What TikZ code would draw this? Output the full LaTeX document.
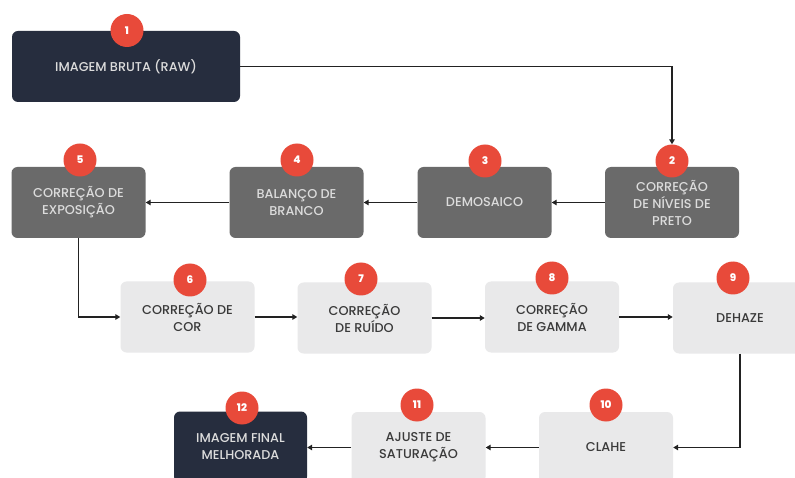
\documentclass[tikz,border=0pt]{standalone}
\usepackage{fontspec}
\setmainfont{Poppins Medium}
\usetikzlibrary{arrows.meta}
\definecolor{navy}{HTML}{262D3E}
\definecolor{midgray}{HTML}{6A6A6A}
\definecolor{lightgray}{HTML}{E9E9EA}
\definecolor{badge}{HTML}{E84A3A}
\definecolor{lighttext}{HTML}{DCDCDC}
\definecolor{darktext}{HTML}{3A3A3A}
\definecolor{linecol}{HTML}{222222}
\tikzset{
  box/.style={rounded corners=6pt, minimum height=71pt, align=center,
    font=\fontsize{12.8}{17}\selectfont, inner sep=2pt},
  darkbox/.style={box, fill=navy, text=lighttext},
  graybox/.style={box, fill=midgray, text=lighttext, minimum width=134pt},
  lightbox/.style={box, fill=lightgray, text=darktext, minimum width=134pt},
  badgec/.style={circle, fill=badge, text=white, minimum size=33pt, inner sep=0pt,
    font=\fontsize{10.5}{10.5}\selectfont\bfseries},
  conn/.style={draw=linecol, line width=1.7pt, -{Triangle[length=5pt,width=5.5pt]}},
}
\begin{document}
\begin{tikzpicture}[x=1pt,y=-1pt]
\useasboundingbox (0,0) rectangle (795,478);
\clip (0,0) rectangle (795,478);
\fill[white] (0,0) rectangle (795,478);
% boxes
\node[darkbox, minimum width=228pt] (b1) at (126,66.5) {IMAGEM BRUTA (RAW)};
\node[graybox] (b2) at (672,202.5) {CORREÇÃO\\DE NÍVEIS DE\\PRETO};
\node[graybox] (b3) at (484.5,202.5) {DEMOSAICO};
\node[graybox] (b4) at (296.5,202.5) {BALANÇO DE\\BRANCO};
\node[graybox] (b5) at (78.5,202.5) {CORREÇÃO DE\\EXPOSIÇÃO};
\node[lightbox] (b6) at (187.5,317) {CORREÇÃO DE\\COR};
\node[lightbox] (b7) at (364.5,318) {CORREÇÃO\\DE RUÍDO};
\node[lightbox] (b8) at (552,317) {CORREÇÃO\\DE GAMMA};
\node[lightbox] (b9) at (740,318) {DEHAZE};
\node[lightbox] (b10) at (606,447.5) {CLAHE};
\node[lightbox] (b11) at (418.5,447.5) {AJUSTE DE\\SATURAÇÃO};
\node[darkbox, minimum width=133pt] (b12) at (240.5,447) {IMAGEM FINAL\\MELHORADA};
% badges
\node[badgec] (c1) at (127,30.5) {1};
\node[badgec] (c2) at (672,161) {2};
\node[badgec] (c3) at (485,161) {3};
\node[badgec] (c4) at (297,160) {4};
\node[badgec] (c5) at (80,160) {5};
\node[badgec] (c6) at (190,280) {6};
\node[badgec] (c7) at (361,279) {7};
\node[badgec] (c8) at (552,278) {8};
\node[badgec] (c9) at (733,278) {9};
\node[badgec] (c10) at (606,405) {10};
\node[badgec] (c11) at (417,405) {11};
\node[badgec] (c12) at (242,408) {12};
% connectors
\coordinate (k1) at (672,66.5);
\draw[conn] (b1.east) -- (k1) -- (c2.north);
\draw[conn] (b2.west) -- (b3.east);
\draw[conn] (b3.west) -- (b4.east);
\draw[conn] (b4.west) -- (b5.east);
\draw[conn] (b5.south) |- (b6.west);
\draw[conn] (b6.east) -- (b7.west |- b6.east);
\draw[conn] (b7.east) -- (b8.west |- b7.east);
\draw[conn] (b8.east) -- (b9.west |- b8.east);
\coordinate (k9) at (740,353.5);
\draw[conn] (k9) |- (b10.east);
\draw[conn] (b10.west) -- (b11.east);
\draw[conn] (b11.west) -- (b12.east |- b11.west);
\end{tikzpicture}
\end{document}
